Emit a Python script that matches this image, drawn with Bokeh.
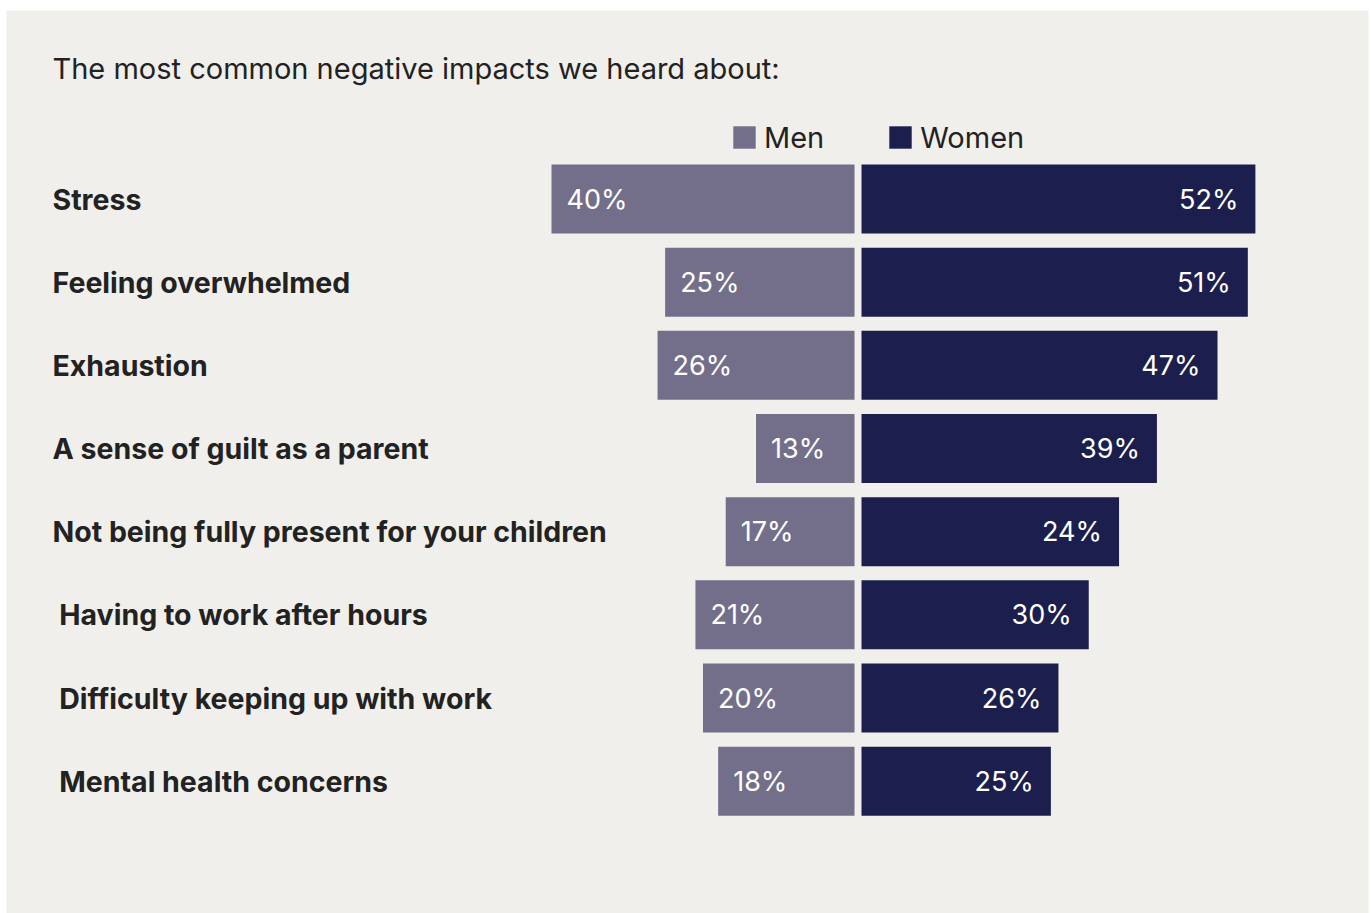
from bokeh.plotting import figure
from bokeh.models import Range1d, ColumnDataSource, Legend, LegendItem, Label
from bokeh.core.properties import value
from bokeh.embed import file_html
from bokeh.resources import INLINE

# ---------------- data ----------------
title_text = "The most common negative impacts we heard about:"
categories = [
    "Stress",
    "Feeling overwhelmed",
    "Exhaustion",
    "A sense of guilt as a parent",
    "Not being fully present for your children",
    "\u00a0Having to work after hours",
    "\u00a0Difficulty keeping up with work",
    "\u00a0Mental health concerns",
]
men = [40, 25, 26, 13, 17, 21, 20, 18]
women = [52, 51, 47, 39, 34, 30, 26, 25]
men_labels = ["40%", "25%", "26%", "13%", "17%", "21%", "20%", "18%"]
women_labels = ["52%", "51%", "47%", "39%", "24%", "30%", "26%", "25%"]
series_names = ["Men", "Women"]

# ---------------- style / layout ----------------
BG = "#f0efeb"
MEN_C = "#736f8b"
WOMEN_C = "#1c1f4d"
TXT = "#222222"
FONT = "Inter"

W, H = 1371, 913
ML, MT, MR = 6, 10, 3
FW, FH = W - ML - MR, H - MT
PX_PER_PCT = 7.575
CENTER_PX = 857.5 - ML       # frame px of the central gap
ROW_PX = 83.17
ROW0_PX = 198.5 - MT         # frame px of first row centre
BAR_H = 69 / ROW_PX
GAP = 3.5 / PX_PER_PCT

x0 = -CENTER_PX / PX_PER_PCT
x1 = (FW - CENTER_PX) / PX_PER_PCT
y_top = -ROW0_PX / ROW_PX
y_bot = (FH - ROW0_PX) / ROW_PX

p = figure(width=W, height=H, output_backend="svg", toolbar_location=None,
           x_range=Range1d(x0, x1), y_range=Range1d(y_bot, y_top),
           min_border_left=ML, min_border_top=MT, min_border_right=MR,
           min_border_bottom=0)
p.axis.visible = False
p.grid.visible = False
p.outline_line_color = None
p.background_fill_color = BG
p.border_fill_color = "white"

n = len(categories)
rows = list(range(n))
src = ColumnDataSource(dict(
    y=rows, cat=categories,
    men_l=[-(v + GAP) for v in men], men_r=[-GAP] * n,
    wom_l=[GAP] * n, wom_r=[v + GAP for v in women],
    men_lab=men_labels, wom_lab=women_labels,
    lab_x=[x0 + (52 - ML) / PX_PER_PCT] * n,
))

r_men = p.hbar(y="y", left="men_l", right="men_r", height=BAR_H, source=src,
               fill_color=MEN_C, line_color=None)
r_wom = p.hbar(y="y", left="wom_l", right="wom_r", height=BAR_H, source=src,
               fill_color=WOMEN_C, line_color=None)

p.text(x="lab_x", y="y", text="cat", source=src, text_font=value(FONT),
       text_font_style="bold", text_font_size="28.5px", text_color=TXT,
       text_baseline="middle", text_align="left")

p.text(x="men_l", y="y", text="men_lab", source=src, x_offset=15,
       text_font=value(FONT), text_font_size="27px", text_color="white",
       text_baseline="middle", text_align="left")
p.text(x="wom_r", y="y", text="wom_lab", source=src, x_offset=-17,
       text_font=value(FONT), text_font_size="27px", text_color="white",
       text_baseline="middle", text_align="right")

p.add_layout(Label(x=52 - ML, y=H - 68, x_units="screen", y_units="screen",
                   text=title_text, text_font=FONT, text_font_size="29px",
                   text_color=TXT, text_baseline="alphabetic"))

legend = Legend(items=[LegendItem(label=series_names[0], renderers=[r_men]),
                       LegendItem(label=series_names[1], renderers=[r_wom])],
                orientation="horizontal", location=(730 - ML, H - 137 - 17.5),
                padding=0, margin=0, spacing=62, glyph_width=28, glyph_height=28,
                label_standoff=6, label_text_font=FONT, label_text_font_size="29px",
                label_text_color=TXT, background_fill_alpha=0, border_line_alpha=0)
p.add_layout(legend, "center")

open("out.html", "w").write(file_html(p, INLINE))
